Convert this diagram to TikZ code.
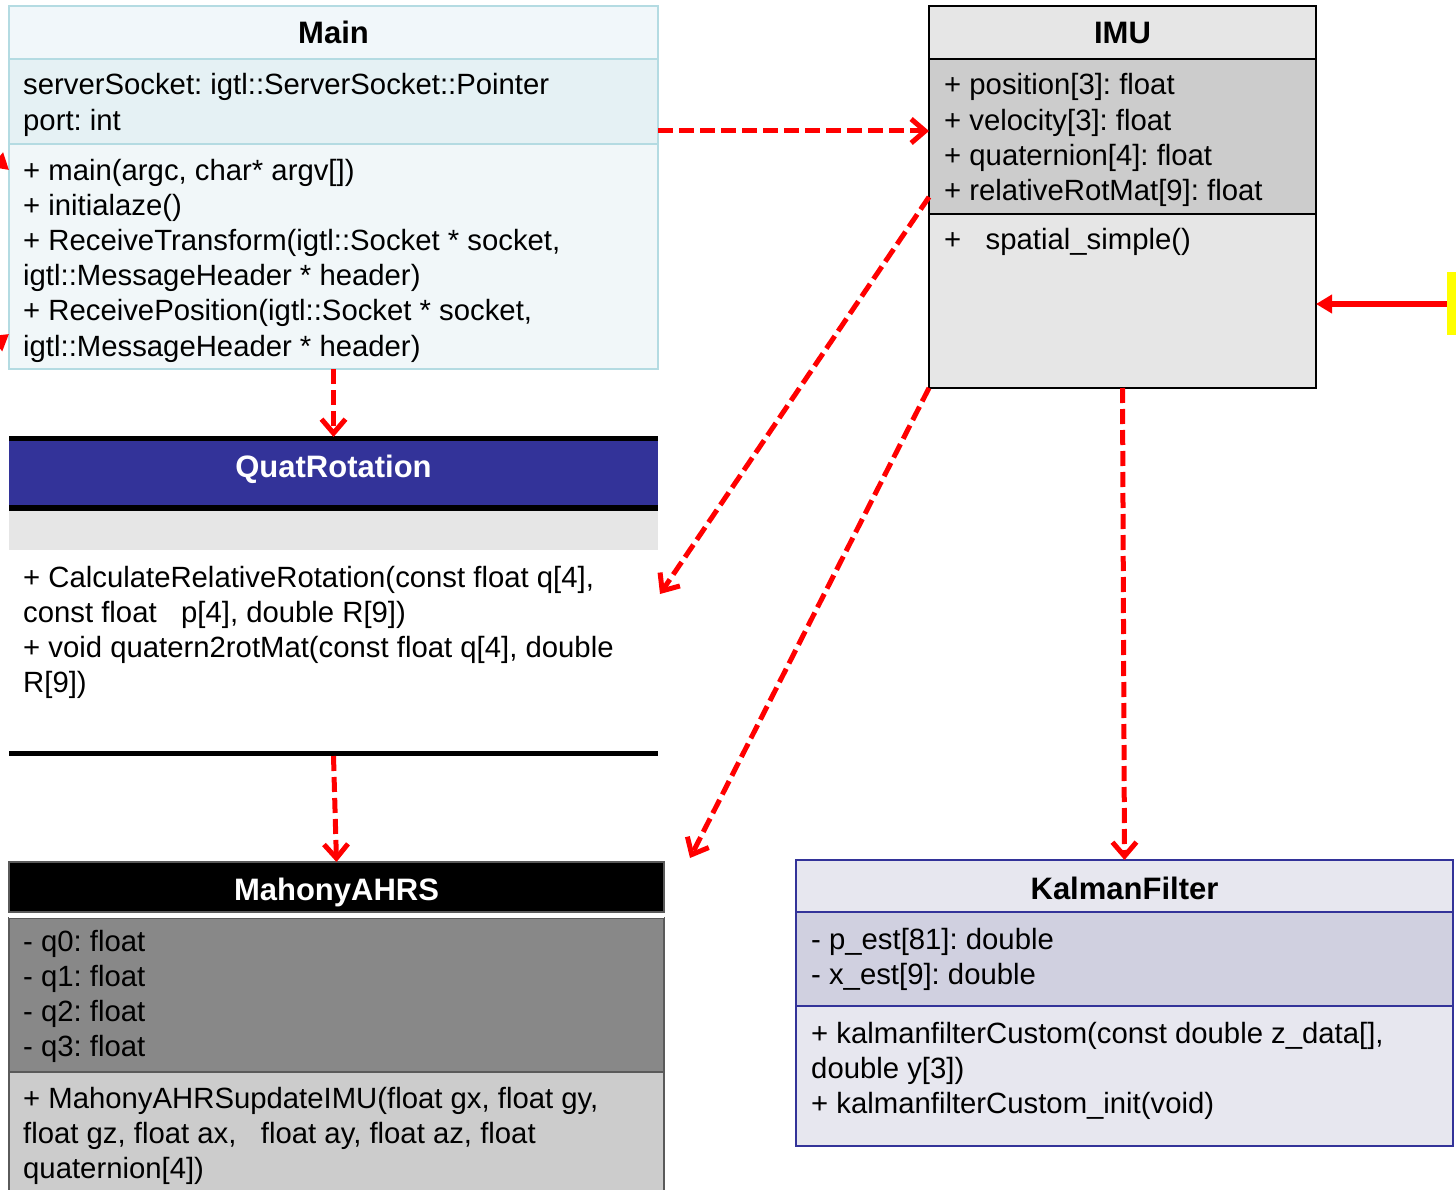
\documentclass[tikz,border=0pt]{standalone}
\usepackage{fontspec}
\setmainfont{Liberation Sans}
\usetikzlibrary{arrows.meta}
\frenchspacing
\definecolor{mainborder}{RGB}{180,219,226}
\definecolor{mainTc}{RGB}{241,247,250}
\definecolor{mainAc}{RGB}{229,241,244}
\definecolor{mainMc}{RGB}{241,247,249}
\definecolor{imuTc}{RGB}{230,230,230}
\definecolor{imuAc}{RGB}{204,204,204}
\definecolor{quatblue}{RGB}{51,51,153}
\definecolor{quatgray}{RGB}{230,230,230}
\definecolor{mahAc}{RGB}{136,136,136}
\definecolor{mahMc}{RGB}{204,204,204}
\definecolor{mahborder}{RGB}{90,90,90}
\definecolor{kalTc}{RGB}{231,231,239}
\definecolor{kalAc}{RGB}{208,208,224}
\definecolor{kalborder}{RGB}{51,51,153}
\definecolor{arrowred}{RGB}{255,0,0}
\definecolor{yelc}{RGB}{255,255,0}
\begin{document}
\begin{tikzpicture}[x=1pt,y=-1pt,
  comp/.style={anchor=north west, inner sep=0pt, outer sep=0pt, rectangle},
  txt/.style={anchor=base west, inner sep=0pt, align=left, font=\fontsize{29.3}{35.2}\selectfont\frenchspacing},
  ttl/.style={anchor=base, inner sep=0pt, font=\fontsize{31}{37}\selectfont\bfseries},
  dep/.style={draw=arrowred, line width=5pt, dash pattern=on 15pt off 6pt, -{Straight Barb[length=14pt,width=24pt]}},
  assoc/.style={draw=arrowred, line width=6pt, -{Triangle[length=16pt,width=18pt]}}]
\useasboundingbox (0,0) rectangle (1456,1190);
\clip (0,0) rectangle (1456,1190);
\fill[white] (0,0) rectangle (1456,1190);

% (multi-line text nodes are placed by the baseline of their LAST line)

% ---- Main ----
\node[comp, draw=mainborder, line width=2.5pt, fill=mainTc, minimum width=649pt, minimum height=53pt] (mainT) at (9,6) {};
\node[comp, draw=mainborder, line width=2.5pt, fill=mainAc, minimum width=649pt, minimum height=85pt] (mainA) at (9,59) {};
\node[comp, draw=mainborder, line width=2.5pt, fill=mainMc, minimum width=649pt, minimum height=225pt] (mainM) at (9,144) {};
\node[ttl] (mainTitle) at (333.5,44) {Main};
\node[txt] (mainAttr) at (23,130.2) {serverSocket: igtl::ServerSocket::Pointer\\port: int};
\node[txt] (mainMeth) at (23,356) {+ main(argc, char* argv[])\\+ initialaze()\\+ ReceiveTransform(igtl::Socket * socket,\\igtl::MessageHeader * header)\\+ ReceivePosition(igtl::Socket * socket,\\igtl::MessageHeader * header)};

% ---- IMU ----
\node[comp, draw=black, line width=2.5pt, fill=imuTc, minimum width=387pt, minimum height=53pt] (imuT) at (929,6) {};
\node[comp, draw=black, line width=2.5pt, fill=imuAc, minimum width=387pt, minimum height=155pt] (imuA) at (929,59) {};
\node[comp, draw=black, line width=2.5pt, fill=imuTc, minimum width=387pt, minimum height=174pt] (imuM) at (929,214) {};
\node[ttl] (imuTitle) at (1122.5,44) {IMU};
\node[txt] (imuAttr) at (944,200.6) {+ position[3]: float\\+ velocity[3]: float\\+ quaternion[4]: float\\+ relativeRotMat[9]: float};
\node[txt] (imuMeth) at (944,250) {+\ \ \ spatial\_simple()};

% ---- QuatRotation ----
\node[comp, fill=quatblue, minimum width=649pt, minimum height=64pt] (quatT) at (9,441) {};
\node[comp, fill=quatgray, minimum width=649pt, minimum height=39pt] (quatA) at (9,511) {};
\node[comp, fill=white, minimum width=649pt, minimum height=203pt] (quatM) at (9,550) {};
\draw[line width=5pt] ([yshift=2.5pt]quatT.north west) -- ([yshift=2.5pt]quatT.north east);
\draw[line width=6pt] ([yshift=-3pt]quatT.south west) -- ([yshift=-3pt]quatT.south east);
\draw[line width=5pt] (quatM.south west) -- (quatM.south east);
\node[ttl, text=white] (quatTitle) at (333.5,477) {QuatRotation};
\node[txt] (quatMeth) at (23,692.6) {+ CalculateRelativeRotation(const float q[4],\\const float\ \ \ p[4], double R[9])\\+ void quatern2rotMat(const float q[4], double\\R[9])};

% ---- MahonyAHRS ----
\node[comp, fill=mahMc, draw=mahborder, line width=2pt, minimum width=655pt, minimum height=140pt] (mahM) at (9,1072) {};
\node[comp, fill=mahAc, draw=mahborder, line width=2pt, minimum width=655pt, minimum height=154pt] (mahA) at (9,918) {};
\node[comp, fill=white, minimum width=655pt, minimum height=6pt] (mahS) at (9,912) {};
\node[comp, fill=black, draw=mahborder, line width=2pt, minimum width=655pt, minimum height=50pt] (mahT) at (9,862) {};
\node[ttl, text=white] (mahTitle) at (336.5,900) {MahonyAHRS};
\node[txt] (mahAttr) at (23,1056.6) {- q0: float\\- q1: float\\- q2: float\\- q3: float};
\node[txt] (mahMeth) at (23,1178.4) {+ MahonyAHRSupdateIMU(float gx, float gy,\\float gz, float ax,\ \ \ float ay, float az, float\\quaternion[4])};

% ---- KalmanFilter ----
\node[comp, draw=kalborder, line width=2.5pt, fill=kalTc, minimum width=657pt, minimum height=52pt] (kalT) at (796,860) {};
\node[comp, draw=kalborder, line width=2.5pt, fill=kalAc, minimum width=657pt, minimum height=94pt] (kalA) at (796,912) {};
\node[comp, draw=kalborder, line width=2.5pt, fill=kalTc, minimum width=657pt, minimum height=140pt] (kalM) at (796,1006) {};
\node[ttl] (kalTitle) at (1124.5,899) {KalmanFilter};
\node[txt] (kalAttr) at (811,984.2) {- p\_est[81]: double\\- x\_est[9]: double};
\node[txt] (kalMeth) at (811,1113.4) {+ kalmanfilterCustom(const double z\_data[],\\double y[3])\\+ kalmanfilterCustom\_init(void)};

% ---- yellow partial box ----
\node[comp, fill=yelc, minimum width=20pt, minimum height=63pt] (yelbox) at (1447,272) {};

% ---- connectors ----
\coordinate (t3) at (660,594);
\coordinate (t4) at (690,858);
\coordinate (l1) at (-40,128);
\coordinate (l2) at (-40,372);
\draw[dep] (mainA.east |- 0,131) -- (imuA.west |- 0,131);
\draw[dep, shorten >=4pt] (mainM.south) -- (quatT.north);
\draw[dep] (imuA.west |- 0,197) -- (t3);
\draw[dep] (imuM.south west) -- (t4);
\draw[dep] (imuM.south) -- (kalT.north);
\draw[dep] ([yshift=-3pt]quatM.south) -- (mahT.north);
\draw[assoc] (yelbox.west |- 0,304) -- (imuM.east |- 0,304);
\draw[assoc] (l1) -- (mainM.west |- 0,170);
\draw[assoc] (l2) -- (mainM.west |- 0,334);
\end{tikzpicture}
\end{document}
